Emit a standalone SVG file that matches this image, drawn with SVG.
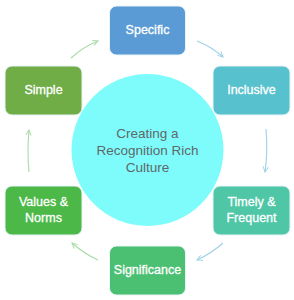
<svg xmlns="http://www.w3.org/2000/svg" width="294" height="300" viewBox="0 0 294 300">
<style>
.box{stroke:#e8f4f8;stroke-width:1}
.lbl{font-family:"Liberation Sans",Arial,sans-serif;font-size:12.5px;fill:#ffffff;stroke:#ffffff;stroke-width:0.3;text-anchor:middle}
.ctr{font-family:"Liberation Sans",Arial,sans-serif;font-size:13.5px;fill:#5f6868;text-anchor:middle}
.con{fill:none;stroke-width:1.1}
.g{stroke:#a8dca8}
.b{stroke:#9fd0e6}
</style>
<defs>
<marker id="ag" viewBox="0 0 8 8" refX="7" refY="4" markerWidth="7" markerHeight="7" orient="auto" markerUnits="userSpaceOnUse">
<path d="M1,1 L7,4 L1,7" fill="none" stroke="#a8dca8" stroke-width="1.1"/>
</marker>
<marker id="ab" viewBox="0 0 8 8" refX="7" refY="4" markerWidth="7" markerHeight="7" orient="auto" markerUnits="userSpaceOnUse">
<path d="M1,1 L7,4 L1,7" fill="none" stroke="#9fd0e6" stroke-width="1.1"/>
</marker>
</defs>
<rect width="294" height="300" fill="#ffffff"/>
<g id="connectors">
<path class="con g" d="M71,58 Q83,47 98,41" marker-end="url(#ag)"/>
<path class="con b" d="M197,41 Q212,47 223,57" marker-end="url(#ab)"/>
<path class="con b" d="M266,129 Q268,151 265,172" marker-end="url(#ab)"/>
<path class="con b" d="M223,243 Q212,253 197,260" marker-end="url(#ab)"/>
<path class="con g" d="M98,260 Q83,253 72,243" marker-end="url(#ag)"/>
<path class="con g" d="M29,172 Q27,151 29,130" marker-end="url(#ag)"/>
</g>
<g id="center">
<circle cx="147.5" cy="150" r="76" fill="#7efcfc"/>
<text class="ctr" x="147.5" y="138">Creating a</text>
<text class="ctr" x="147.5" y="155">Recognition Rich</text>
<text class="ctr" x="147.5" y="172">Culture</text>
</g>
<g id="specific">
<rect class="box" x="109.5" y="6" width="76" height="49" rx="7" fill="#5b9bd5"/>
<text class="lbl" x="147.5" y="34">Specific</text>
</g>
<g id="inclusive">
<rect class="box" x="213" y="66" width="77" height="49" rx="7" fill="#57c1cd"/>
<text class="lbl" x="251.5" y="94">Inclusive</text>
</g>
<g id="timely">
<rect class="box" x="213" y="186" width="77" height="49" rx="7" fill="#4fc6a6"/>
<text class="lbl" x="251.5" y="206">Timely &amp;</text>
<text class="lbl" x="251.5" y="222">Frequent</text>
</g>
<g id="significance">
<rect class="box" x="109.5" y="246" width="76" height="49" rx="7" fill="#4bbf72"/>
<text class="lbl" x="147.5" y="274">Significance</text>
</g>
<g id="values">
<rect class="box" x="5" y="186" width="77" height="49" rx="7" fill="#4cb848"/>
<text class="lbl" x="43.5" y="206">Values &amp;</text>
<text class="lbl" x="43.5" y="222">Norms</text>
</g>
<g id="simple">
<rect class="box" x="5" y="66" width="77" height="49" rx="7" fill="#70ad47"/>
<text class="lbl" x="43.5" y="94">Simple</text>
</g>
</svg>
